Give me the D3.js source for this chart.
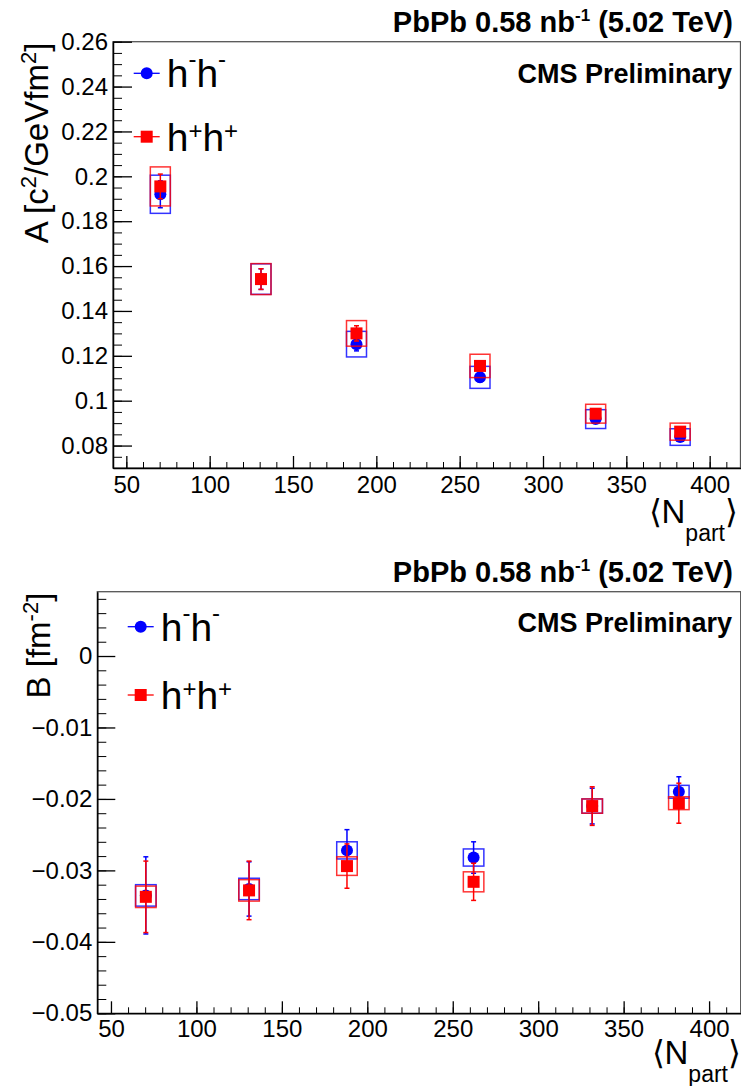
<!DOCTYPE html>
<html>
<head>
<meta charset="utf-8">
<script src="https://cdn.jsdelivr.net/npm/d3@7"></script>
<style>
body{margin:0;background:#fff;}
text{font-family:"Liberation Sans",Arial,Helvetica,sans-serif;}
</style>
</head>
<body>
<svg id="graph" width="741" height="1086"></svg>
<script>
//mean number of participants of each centrality bin
var npart = [70.4, 130.8, 188.1, 262.2, 331.6, 382.3];

//A parameter, h-h- and h+h+ (value, stat error, syst error)
var aNeg     = [0.1920, 0.1542, 0.1252, 0.1104, 0.0918, 0.0838];
var aNegStat = [0.0060, 0.0046, 0.0030, 0.0020, 0.0015, 0.0015];
var aNegSys  = [0.0085, 0.0068, 0.0057, 0.0049, 0.0042, 0.0037];
var aPos     = [0.1955, 0.1542, 0.1300, 0.1155, 0.0942, 0.0862];
var aPosStat = [0.0055, 0.0046, 0.0034, 0.0022, 0.0016, 0.0015];
var aPosSys  = [0.0087, 0.0069, 0.0057, 0.0052, 0.0042, 0.0038];

//B parameter, h-h- and h+h+
var bNeg     = [-0.0335, -0.0326, -0.0272, -0.0282, -0.0210, -0.0190];
var bNegStat = [0.0054, 0.0038, 0.0029, 0.0022, 0.0025, 0.0021];
var bNegSys  = [0.0015, 0.0015, 0.0012, 0.0012, 0.0010, 0.0009];
var bPos     = [-0.0337, -0.0328, -0.0294, -0.0316, -0.0210, -0.0206];
var bPosStat = [0.0050, 0.0041, 0.0031, 0.0026, 0.0027, 0.0028];
var bPosSys  = [0.0015, 0.0015, 0.0013, 0.0014, 0.0010, 0.0009];

//tick labels
var xTicks = [50, 100, 150, 200, 250, 300, 350, 400];
var aTicks = [0.08, 0.1, 0.12, 0.14, 0.16, 0.18, 0.2, 0.22, 0.24, 0.26];
var bTicks = [-0.05, -0.04, -0.03, -0.02, -0.01, 0];

var blue = "#0000ff";
var red = "#ff0000";
var boxHalf = 6;   //half width of the syst. boxes in N_part units

var svg = d3.select("#graph");

//adds tspans to a text, parts with shift get a smaller raised font
var addRich = function(txt, parts)
{
    parts.forEach(function(p)
    {
        var t = txt.append("tspan").text(p.t);
        if (p.size) { t.attr("font-size", p.size); }
        if (p.shift) { t.attr("baseline-shift", p.shift); }
    });
    return txt;
}

var drawSeries = function(g, xScale, yScale, vals, stat, sys, color, shape)
{
    var pts = npart.map(function(n, i)
    {
        return {x:n, y:vals[i], stat:stat[i], sys:sys[i]};
    });
    var s = g.append("g");

    //systematic boxes
    s.selectAll("rect.sys")
     .data(pts)
     .enter()
     .append("rect")
     .attr("x", function(d){ return xScale(d.x - boxHalf); })
     .attr("y", function(d){ return yScale(d.y + d.sys); })
     .attr("width", function(d){ return xScale(d.x + boxHalf) - xScale(d.x - boxHalf); })
     .attr("height", function(d){ return yScale(d.y - d.sys) - yScale(d.y + d.sys); })
     .attr("fill", "none")
     .attr("stroke", color)
     .attr("stroke-opacity", 0.8)
     .attr("stroke-width", 1.5);

    //stat error bars
    s.selectAll("line.err")
     .data(pts)
     .enter()
     .append("line")
     .attr("x1", function(d){ return xScale(d.x); })
     .attr("x2", function(d){ return xScale(d.x); })
     .attr("y1", function(d){ return yScale(d.y + d.stat); })
     .attr("y2", function(d){ return yScale(d.y - d.stat); })
     .attr("stroke", color)
     .attr("stroke-width", 1.5);

    [1, -1].forEach(function(sign)
    {
        s.selectAll("line.cap" + sign)
         .data(pts)
         .enter()
         .append("line")
         .attr("x1", function(d){ return xScale(d.x) - 2.5; })
         .attr("x2", function(d){ return xScale(d.x) + 2.5; })
         .attr("y1", function(d){ return yScale(d.y + sign * d.stat); })
         .attr("y2", function(d){ return yScale(d.y + sign * d.stat); })
         .attr("stroke", color)
         .attr("stroke-width", 1.5);
    });

    //markers
    if (shape == "circle")
    {
        s.selectAll("circle")
         .data(pts)
         .enter()
         .append("circle")
         .attr("cx", function(d){ return xScale(d.x); })
         .attr("cy", function(d){ return yScale(d.y); })
         .attr("r", 6)
         .attr("fill", color);
    }
    else
    {
        s.selectAll("rect.mk")
         .data(pts)
         .enter()
         .append("rect")
         .attr("x", function(d){ return xScale(d.x) - 6; })
         .attr("y", function(d){ return yScale(d.y) - 6; })
         .attr("width", 12)
         .attr("height", 12)
         .attr("fill", color);
    }
}

var drawLegendEntry = function(pos, color, shape, label)
{
    var g = svg.append("g");
    g.append("line")
     .attr("x1", pos.x - 13).attr("x2", pos.x + 13)
     .attr("y1", pos.y).attr("y2", pos.y)
     .attr("stroke", color).attr("stroke-width", 1.3);
    if (shape == "circle")
    {
        g.append("circle").attr("cx", pos.x).attr("cy", pos.y).attr("r", 6).attr("fill", color);
    }
    else
    {
        g.append("rect").attr("x", pos.x - 6).attr("y", pos.y - 6)
         .attr("width", 12).attr("height", 12).attr("fill", color);
    }
    var t = g.append("text")
             .attr("x", pos.x + 20)
             .attr("y", pos.y + 14)
             .attr("font-size", 39);
    addRich(t, label);
}

var drawPanel = function(p)
{
    var dim = {width:p.box.right - p.box.left, height:p.box.bottom - p.box.top};

    var xScale = d3.scaleLinear()
        .domain([42, 418.5])
        .range([0, dim.width]);
    var yScale = d3.scaleLinear()
        .domain(p.yDomain)
        .range([dim.height, 0]);

    var target = svg.append("g")
        .attr("transform", "translate(" + p.box.left + "," + p.box.top + ")");

    //frame
    target.append("rect")
          .attr("width", dim.width)
          .attr("height", dim.height)
          .attr("fill", "none")
          .attr("stroke", "#555")
          .attr("stroke-width", 1.3);

    //minor ticks
    target.append("g")
          .attr("transform", "translate(0," + dim.height + ")")
          .call(d3.axisBottom(xScale).tickValues(d3.range(50, 411, 10))
                  .tickSize(-6).tickSizeOuter(0).tickFormat(""))
          .call(function(a){ a.select(".domain").remove(); });
    target.append("g")
          .call(d3.axisLeft(yScale).tickValues(p.yMinor)
                  .tickSize(-p.yMinorLen).tickSizeOuter(0).tickFormat(""))
          .call(function(a){ a.select(".domain").remove(); });

    //major ticks with labels
    var xAxis = target.append("g")
          .attr("transform", "translate(0," + dim.height + ")")
          .call(d3.axisBottom(xScale).tickValues(xTicks)
                  .tickSize(-12).tickSizeOuter(0).tickPadding(p.xPad));
    var yAxis = target.append("g")
          .call(d3.axisLeft(yScale).tickValues(p.yTicks)
                  .tickSize(-p.yMajorLen).tickSizeOuter(0).tickPadding(p.yPad)
                  .tickFormat(function(d){ return String(d).replace("-", "\u2212"); }));

    [xAxis, yAxis].forEach(function(a)
    {
        a.attr("font-size", 24)
         .attr("font-family", "'Liberation Sans', Arial, sans-serif");
        a.selectAll("line").attr("stroke-width", 1.3);
        a.select(".domain").attr("stroke-width", 1.5);
    });

    //data
    drawSeries(target, xScale, yScale, p.neg, p.negStat, p.negSys, blue, "circle");
    drawSeries(target, xScale, yScale, p.pos, p.posStat, p.posSys, red, "square");

    //y title
    var yt = svg.append("text")
                .attr("transform", "translate(" + p.yTitleX + "," + (p.box.top + 1) + ") rotate(-90)")
                .attr("text-anchor", "end")
                .attr("font-size", 33);
    addRich(yt, p.yTitle);

    //x title
    var xt = svg.append("text")
                .attr("x", p.xTitleRight)
                .attr("y", p.box.bottom + p.xTitleDy)
                .attr("text-anchor", "end")
                .attr("font-size", 33)
                .attr("font-family", "'Liberation Sans', 'DejaVu Sans', sans-serif");
    addRich(xt, [{t:"\u27E8N"}, {t:"part", size:23, shift:-18}, {t:"\u27E9"}]);

    //header and CMS label
    var ht = svg.append("text")
                .attr("x", 733)
                .attr("y", p.box.top - 10)
                .attr("text-anchor", "end")
                .attr("font-weight", "bold")
                .attr("font-size", 29);
    addRich(ht, [{t:"PbPb 0.58 nb"}, {t:"-1", size:17, shift:11}, {t:" (5.02 TeV)"}]);

    svg.append("text")
       .attr("x", 732)
       .attr("y", p.box.top + p.cmsDy)
       .attr("text-anchor", "end")
       .attr("font-weight", "bold")
       .attr("font-size", 27)
       .text("CMS Preliminary");

    //legend
    drawLegendEntry(p.leg[0], blue, "circle",
        [{t:"h"}, {t:"-", size:24, shift:20}, {t:"h"}, {t:"-", size:24, shift:20}]);
    drawLegendEntry(p.leg[1], red, "square",
        [{t:"h"}, {t:"+", size:24, shift:12}, {t:"h"}, {t:"+", size:24, shift:12}]);
}

drawPanel({
    box:{left:113, right:740.5, top:41.7, bottom:468},
    yDomain:[0.07, 0.26],
    yTicks:aTicks,
    yMinor:d3.range(0.07, 0.2601, 0.005),
    yMajorLen:19, yMinorLen:9,
    xPad:8, yPad:5,
    neg:aNeg, negStat:aNegStat, negSys:aNegSys,
    pos:aPos, posStat:aPosStat, posSys:aPosSys,
    yTitleX:48,
    yTitle:[{t:"A [c"}, {t:"2", size:22, shift:12}, {t:"/GeVfm"}, {t:"2", size:22, shift:12}, {t:"]"}],
    xTitleRight:738, xTitleDy:55,
    cmsDy:41,
    leg:[{x:146.7, y:73.3}, {x:146.7, y:136.7}]
});

drawPanel({
    box:{left:97.3, right:740.7, top:591.7, bottom:1013.3},
    yDomain:[-0.05, 0.009],
    yTicks:bTicks,
    yMinor:d3.range(-0.05, 0.0091, 0.002),
    yMajorLen:18, yMinorLen:9,
    xPad:6.5, yPad:5,
    neg:bNeg, negStat:bNegStat, negSys:bNegSys,
    pos:bPos, posStat:bPosStat, posSys:bPosSys,
    yTitleX:50,
    yTitle:[{t:"B [fm"}, {t:"-2", size:22, shift:12}, {t:"]"}],
    xTitleRight:741, xTitleDy:51,
    cmsDy:40,
    leg:[{x:140.7, y:626.7}, {x:140.7, y:695}]
});
</script>
</body>
</html>
